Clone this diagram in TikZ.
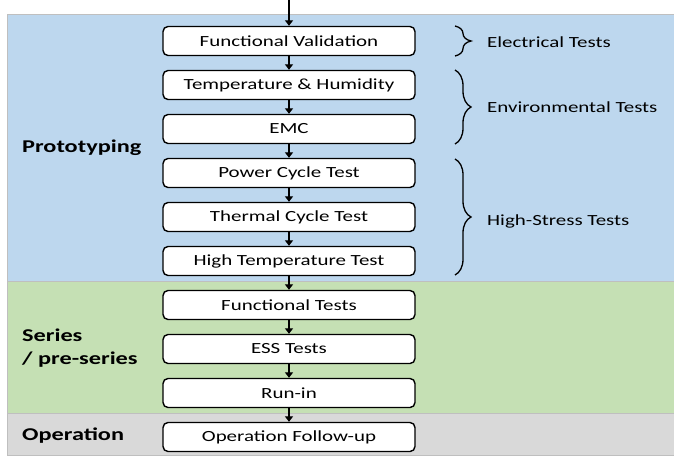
\documentclass[tikz,border=0pt]{standalone}
\usepackage{fontspec}
\setmainfont[FakeStretch=1.35]{Carlito}
\usetikzlibrary{arrows.meta,decorations.pathreplacing}
\definecolor{protoblue}{HTML}{BDD7EE}
\definecolor{seriesgreen}{HTML}{C5E0B4}
\definecolor{opgray}{HTML}{D9D9D9}
\definecolor{bandline}{HTML}{BFBFBF}
\tikzset{
  testbox/.style={draw=black, line width=1.4pt, rounded corners=5pt, fill=white,
    minimum width=252pt, minimum height=29pt, inner sep=0pt,
    font=\fontsize{15.5}{18}\selectfont},
  flow/.style={line width=2.2pt, -{Triangle[width=8pt,length=5.5pt]}},
  band/.style={draw=bandline, line width=1pt},
  phase/.style={anchor=west, inner sep=0pt, align=left,
    font=\fontsize{18}{23}\selectfont\bfseries},
  groupbrace/.style={decorate, decoration={brace, amplitude=16pt, aspect=0.5},
    line width=1.3pt},
  grouplabel/.style={anchor=west, inner sep=0pt, font=\fontsize{15.5}{18}\selectfont}
}
\begin{document}
\begin{tikzpicture}[x=1pt, y=-1pt]
\useasboundingbox (0,0) rectangle (674,458);
% phase bands
\filldraw[band, fill=protoblue] (7,14) rectangle (690,281);
\filldraw[band, fill=seriesgreen] (7,281) rectangle (690,413);
\filldraw[band, fill=opgray] (7,413) rectangle (690,455);
% phase names
\node[phase] (proto) at (22,148) {Prototyping};
\node[phase] (series) at (22,348) {Series\\/ pre-series};
\node[phase] (oper) at (22,436) {Operation};
% test sequence
\coordinate (start) at (289,0);
\node[testbox] (fv) at (289,41) {Functional Validation};
\node[testbox] (th) at (289,85) {Temperature \& Humidity};
\node[testbox] (emc) at (289,129) {EMC};
\node[testbox] (pc) at (289,173) {Power Cycle Test};
\node[testbox] (tc) at (289,217) {Thermal Cycle Test};
\node[testbox] (ht) at (289,261) {High Temperature Test};
\node[testbox] (ft) at (289,305) {Functional Tests};
\node[testbox] (ess) at (289,349) {ESS Tests};
\node[testbox] (run) at (289,393) {Run-in};
\node[testbox] (ofu) at (289,437) {Operation Follow-up};
\draw[flow] (start) -- (fv.north);
\foreach \a/\b in {fv/th, th/emc, emc/pc, pc/tc, tc/ht, ht/ft, ft/ess, ess/run, run/ofu}
  \draw[flow] (\a.south) -- (\b.north);
% test groups
\coordinate (e1) at (455,26);  \coordinate (e2) at (455,56);
\coordinate (v1) at (455,70);  \coordinate (v2) at (455,144);
\coordinate (h1) at (455,159); \coordinate (h2) at (455,275);
\draw[groupbrace] (e1) -- (e2);
\draw[groupbrace] (v1) -- (v2);
\draw[groupbrace] (h1) -- (h2);
\node[grouplabel] (elec) at (487,42) {Electrical Tests};
\node[grouplabel] (env) at (487,107) {Environmental Tests};
\node[grouplabel] (hst) at (487,221) {High-Stress Tests};
\end{tikzpicture}
\end{document}
